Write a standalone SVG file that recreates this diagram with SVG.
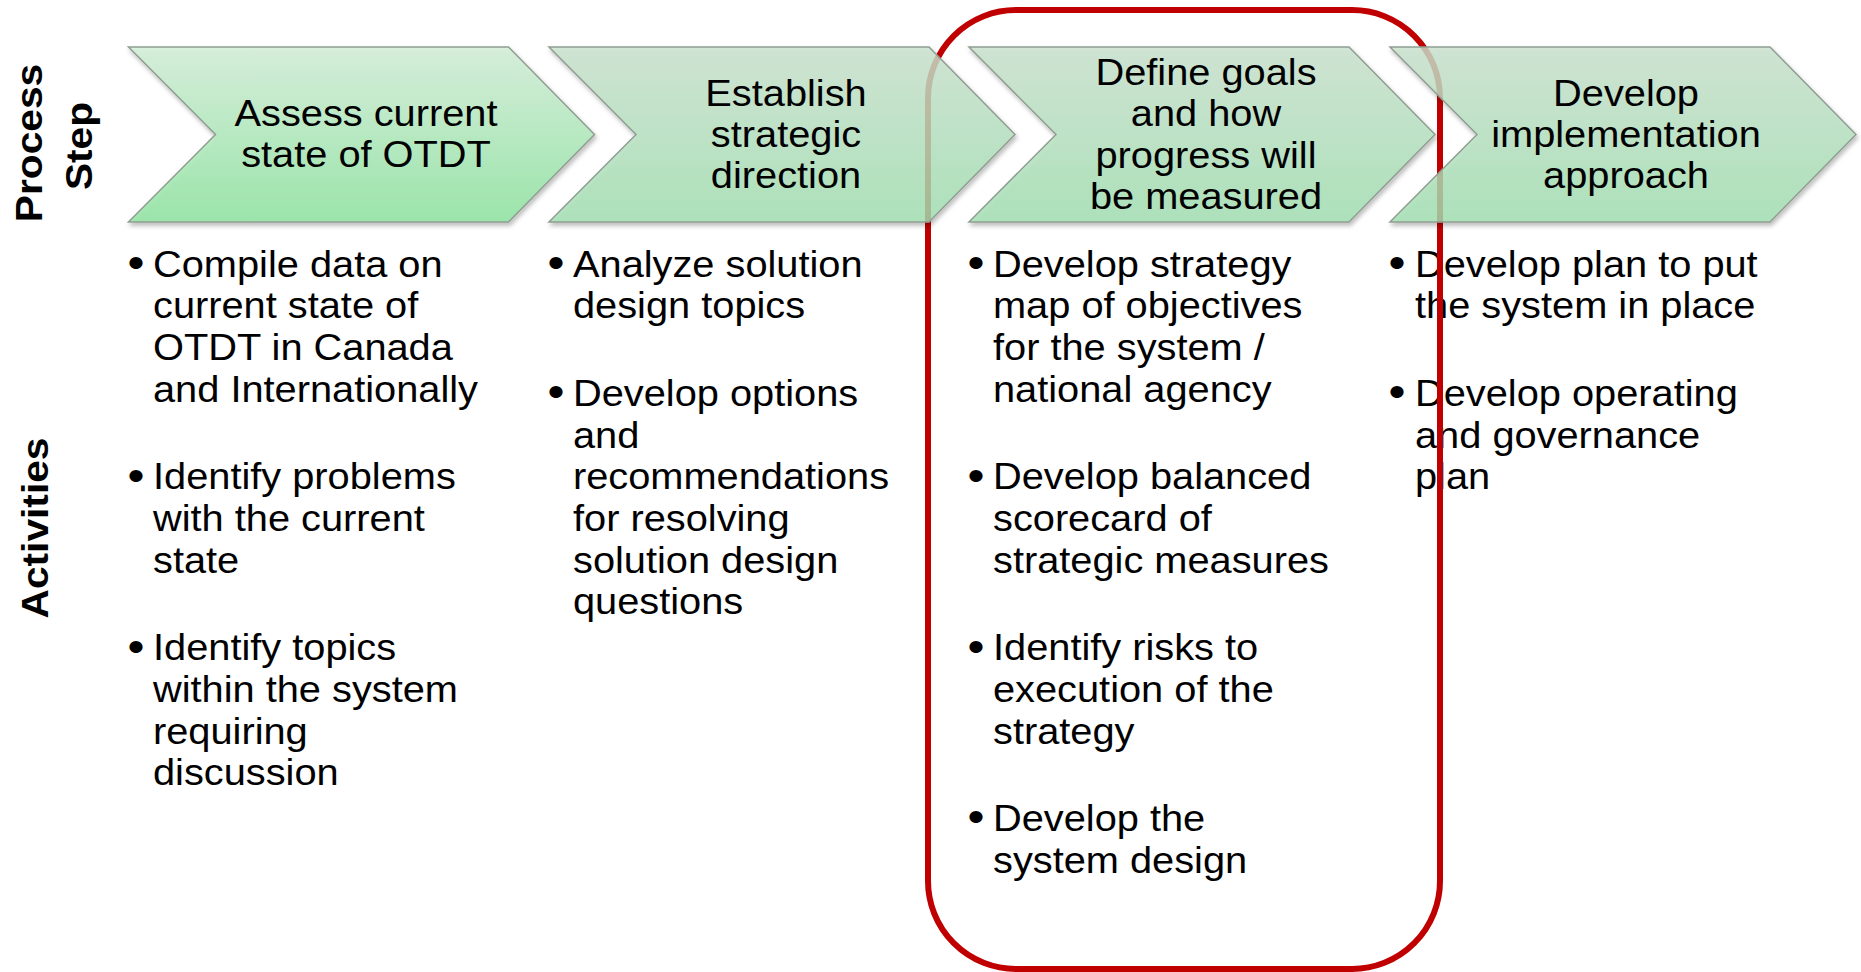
<svg xmlns="http://www.w3.org/2000/svg" width="1861" height="972" viewBox="0 0 1861 972">
<style>
.lbl{font-family:"Liberation Sans",Arial,sans-serif;font-weight:bold;font-size:37px;fill:#000;text-anchor:middle}
.ct{font-family:"Liberation Sans",Arial,sans-serif;font-size:36px;fill:#000;text-anchor:middle}
.bt{font-family:"Liberation Sans",Arial,sans-serif;font-size:36px;fill:#000}
.bu{font-family:"Liberation Sans",Arial,sans-serif;font-size:44px;fill:#000;text-anchor:middle}
.chev{stroke:#909e92;stroke-width:1.5;filter:url(#sh)}
.frame{fill:none;stroke:#c00000;stroke-width:6}
</style>
<defs>
<linearGradient id="g1" x1="0" y1="0" x2="0" y2="1">
<stop offset="0" stop-color="#d3f0d8"/><stop offset="1" stop-color="#8ce59f"/>
</linearGradient>
<linearGradient id="g2" x1="0" y1="0" x2="0" y2="1">
<stop offset="0" stop-color="#cbe3cf"/><stop offset="1" stop-color="#a2e1b2"/>
</linearGradient>
<filter id="sh" x="-5%" y="-10%" width="110%" height="130%">
<feDropShadow dx="1.5" dy="3" stdDeviation="2" flood-color="#000" flood-opacity="0.3"/>
</filter>
<polygon id="chv" points="0,47 380,47 466,134.5 380,222 0,222 87,134.5"/>
</defs>
<rect width="1861" height="972" fill="#fff"/>

<g id="row-labels">
<text class="lbl" transform="translate(42,143) rotate(-90) scale(1.1,1)">Process</text>
<text class="lbl" transform="translate(92,146) rotate(-90) scale(1.1,1)">Step</text>
<text class="lbl" transform="translate(48,528) rotate(-90) scale(1.1,1)">Activities</text>
</g>

<g id="activities-1">
<text class="bu" transform="translate(136,278) scale(1.1,1)">•</text>
<text class="bt" transform="translate(153,276.7) scale(1.105,1)"><tspan x="0">Compile data on</tspan><tspan x="0" dy="41.7">current state of</tspan><tspan x="0" dy="41.7">OTDT in Canada</tspan><tspan x="0" dy="41.7">and Internationally</tspan></text>
<text class="bu" transform="translate(136,490.6) scale(1.1,1)">•</text>
<text class="bt" transform="translate(153,489.3) scale(1.105,1)"><tspan x="0">Identify problems</tspan><tspan x="0" dy="41.7">with the current</tspan><tspan x="0" dy="41.7">state</tspan></text>
<text class="bu" transform="translate(136,661.5) scale(1.1,1)">•</text>
<text class="bt" transform="translate(153,660.2) scale(1.105,1)"><tspan x="0">Identify topics</tspan><tspan x="0" dy="41.7">within the system</tspan><tspan x="0" dy="41.7">requiring</tspan><tspan x="0" dy="41.7">discussion</tspan></text>
</g>

<g id="activities-2">
<text class="bu" transform="translate(556,278) scale(1.1,1)">•</text>
<text class="bt" transform="translate(573,276.7) scale(1.105,1)"><tspan x="0">Analyze solution</tspan><tspan x="0" dy="41.7">design topics</tspan></text>
<text class="bu" transform="translate(556,407.2) scale(1.1,1)">•</text>
<text class="bt" transform="translate(573,405.9) scale(1.105,1)"><tspan x="0">Develop options</tspan><tspan x="0" dy="41.7">and</tspan><tspan x="0" dy="41.7">recommendations</tspan><tspan x="0" dy="41.7">for resolving</tspan><tspan x="0" dy="41.7">solution design</tspan><tspan x="0" dy="41.7">questions</tspan></text>
</g>

<g id="activities-3">
<text class="bu" transform="translate(976,278) scale(1.1,1)">•</text>
<text class="bt" transform="translate(993,276.7) scale(1.105,1)"><tspan x="0">Develop strategy</tspan><tspan x="0" dy="41.7">map of objectives</tspan><tspan x="0" dy="41.7">for the system /</tspan><tspan x="0" dy="41.7">national agency</tspan></text>
<text class="bu" transform="translate(976,490.6) scale(1.1,1)">•</text>
<text class="bt" transform="translate(993,489.3) scale(1.105,1)"><tspan x="0">Develop balanced</tspan><tspan x="0" dy="41.7">scorecard of</tspan><tspan x="0" dy="41.7">strategic measures</tspan></text>
<text class="bu" transform="translate(976,661.5) scale(1.1,1)">•</text>
<text class="bt" transform="translate(993,660.2) scale(1.105,1)"><tspan x="0">Identify risks to</tspan><tspan x="0" dy="41.7">execution of the</tspan><tspan x="0" dy="41.7">strategy</tspan></text>
<text class="bu" transform="translate(976,832.4) scale(1.1,1)">•</text>
<text class="bt" transform="translate(993,831.1) scale(1.105,1)"><tspan x="0">Develop the</tspan><tspan x="0" dy="41.7">system design</tspan></text>
</g>

<g id="activities-4">
<text class="bu" transform="translate(1397,278) scale(1.1,1)">•</text>
<text class="bt" transform="translate(1415,276.7) scale(1.105,1)"><tspan x="0">Develop plan to put</tspan><tspan x="0" dy="41.7">the system in place</tspan></text>
<text class="bu" transform="translate(1397,407.2) scale(1.1,1)">•</text>
<text class="bt" transform="translate(1415,405.9) scale(1.105,1)"><tspan x="0">Develop operating</tspan><tspan x="0" dy="41.7">and governance</tspan><tspan x="0" dy="41.7">plan</tspan></text>
</g>

<g id="highlight-frame">
<rect class="frame" x="928" y="10" width="512" height="959" rx="88" ry="88"/>
</g>

<g id="connectors"></g>

<g id="step-1">
<use href="#chv" x="128.5" class="chev" fill="url(#g1)" fill-opacity="0.8"/>
<text class="ct" transform="translate(366,126) scale(1.105,1)"><tspan x="0">Assess current</tspan><tspan x="0" dy="41.5">state of OTDT</tspan></text>
</g>
<g id="step-2">
<use href="#chv" x="549" class="chev" fill="url(#g2)" fill-opacity="0.8"/>
<text class="ct" transform="translate(786,105.5) scale(1.105,1)"><tspan x="0">Establish</tspan><tspan x="0" dy="41.5">strategic</tspan><tspan x="0" dy="41.5">direction</tspan></text>
</g>
<g id="step-3">
<use href="#chv" x="969" class="chev" fill="url(#g2)" fill-opacity="0.8"/>
<text class="ct" transform="translate(1206,85) scale(1.105,1)"><tspan x="0">Define goals</tspan><tspan x="0" dy="41.5">and how</tspan><tspan x="0" dy="41.5">progress will</tspan><tspan x="0" dy="41.5">be measured</tspan></text>
</g>
<g id="step-4">
<use href="#chv" x="1390" class="chev" fill="url(#g2)" fill-opacity="0.8"/>
<text class="ct" transform="translate(1626,105.5) scale(1.105,1)"><tspan x="0">Develop</tspan><tspan x="0" dy="41.5">implementation</tspan><tspan x="0" dy="41.5">approach</tspan></text>
</g>
</svg>
